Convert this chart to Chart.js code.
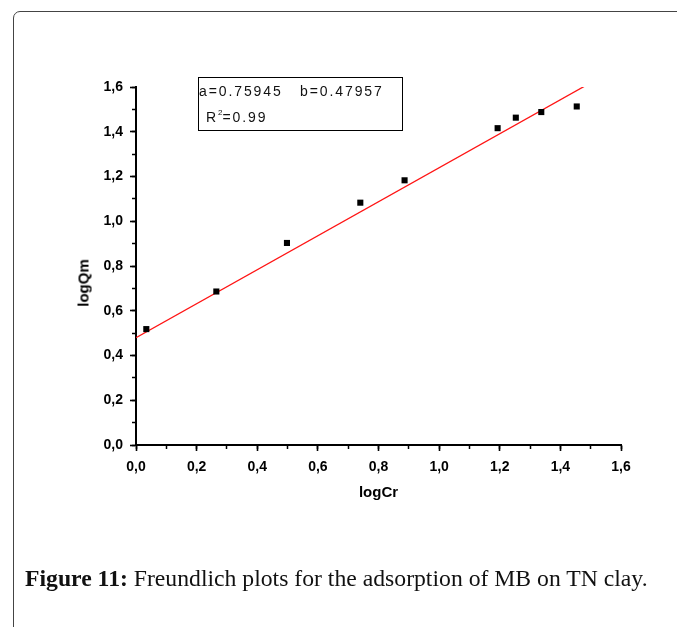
<!DOCTYPE html>
<html>
<head>
<meta charset="utf-8">
<script src="https://cdn.jsdelivr.net/npm/chart.js@4.4.0/dist/chart.umd.min.js"></script>
<style>
  html, body { margin: 0; padding: 0; background: #fff; width: 677px; height: 627px; overflow: hidden; }
  #frame { position: absolute; left: 13px; top: 11px; width: 720px; height: 700px; border: 1.6px solid #444; border-radius: 7px; box-sizing: border-box; }
  #wrap { position: absolute; left: 0; top: 0; width: 677px; height: 627px; }
  #fitbox { position: absolute; left: 198px; top: 77px; width: 205px; height: 54px; border: 1.5px solid #000; box-sizing: border-box;
            font-family: "Liberation Sans", Arial, sans-serif; font-size: 14px; letter-spacing: 1.9px; color: #111; }
  #fitbox .l1 { position: absolute; left: 0px; top: 5px; white-space: pre; }
  #fitbox .l2 { position: absolute; left: 7px; top: 30px; white-space: pre; }
  #fitbox sup { font-size: 8px; vertical-align: 7px; letter-spacing: 0; }
  #ytitle { position: absolute; left: 83px; top: 283px; transform: translate(-50%, -50%) rotate(-90deg);
            font-family: "Liberation Sans", Arial, sans-serif; font-weight: bold; font-size: 15px; color: #000; white-space: nowrap; }
  #caption { position: absolute; left: 25px; top: 565px; font-family: "Liberation Serif", "Times New Roman", serif; font-size: 23.7px; color: #111; white-space: nowrap; }
</style>
</head>
<body>
<div id="frame"></div>
<div id="wrap"><canvas id="c" width="677" height="627"></canvas></div>
<div id="fitbox"><span class="l1">a=0.75945   b=0.47957</span><span class="l2">R<sup>2</sup>=0.99</span></div>
<div id="ytitle">logQm</div>
<div id="caption"><b>Figure 11:</b> Freundlich plots for the adsorption of MB on TN clay.</div>
<script>
// ---- data ----
const logCr = [0.034, 0.265, 0.498, 0.740, 0.886, 1.193, 1.253, 1.337, 1.454];
const logQm = [0.518, 0.686, 0.903, 1.083, 1.183, 1.416, 1.463, 1.488, 1.513];
const fitX = [0.0, 1.479];
const fitY = [0.4796, 1.603];
const xTickLabels = ['0,0', '0,2', '0,4', '0,6', '0,8', '1,0', '1,2', '1,4', '1,6'];
const yTickLabels = ['0,0', '0,2', '0,4', '0,6', '0,8', '1,0', '1,2', '1,4', '1,6'];
const xTitle = 'logCr';

const toPts = (xs, ys) => xs.map((x, i) => ({ x: x, y: ys[i] }));
const tickFont = { family: '"Liberation Sans", Arial, sans-serif', size: 14, weight: 'bold' };

new Chart(document.getElementById('c'), {
  type: 'scatter',
  data: {
    datasets: [
      {
        label: 'data',
        data: toPts(logCr, logQm),
        pointStyle: 'rect',
        pointRadius: 4.3,
        backgroundColor: '#000',
        borderColor: '#000',
        borderWidth: 0,
        showLine: false
      },
      {
        label: 'fit',
        data: toPts(fitX, fitY),
        showLine: true,
        borderColor: 'rgb(255,20,20)',
        borderWidth: 1.3,
        pointRadius: 0,
        fill: false
      }
    ]
  },
  options: {
    responsive: false,
    animation: false,
    devicePixelRatio: 1,
    layout: { padding: { left: 0, right: 56, top: 87, bottom: 122 } },
    plugins: { legend: { display: false }, tooltip: { enabled: false } },
    scales: {
      xm: {
        type: 'linear', position: 'bottom', weight: 0,
        min: 0, max: 1.6,
        ticks: { stepSize: 0.1, display: false },
        grid: { drawOnChartArea: false, drawTicks: true, tickLength: 4, tickWidth: 1.5, tickColor: '#000' },
        border: { display: false },
        afterFit: s => { s.height = 0; }
      },
      x: {
        type: 'linear', position: 'bottom', weight: 1,
        min: 0, max: 1.6,
        ticks: { stepSize: 0.2, color: '#000', font: tickFont, padding: 8, maxRotation: 0,
                 callback: (v, i) => xTickLabels[i] },
        grid: { drawOnChartArea: false, drawTicks: true, tickLength: 6, tickWidth: 1.6, tickColor: '#000' },
        border: { display: true, color: '#000', width: 2 },
        title: { display: true, text: xTitle, color: '#000',
                 font: { family: '"Liberation Sans", Arial, sans-serif', size: 15, weight: 'bold' },
                 padding: { top: 0, bottom: 3 } },
        afterFit: s => { s.height = 60; }
      },
      ym: {
        type: 'linear', position: 'left', weight: 0,
        min: 0, max: 1.6,
        ticks: { stepSize: 0.1, display: false },
        grid: { drawOnChartArea: false, drawTicks: true, tickLength: 4, tickWidth: 1.5, tickColor: '#000' },
        border: { display: false },
        afterFit: s => { s.width = 0; }
      },
      y: {
        type: 'linear', position: 'left', weight: 1,
        min: 0, max: 1.6,
        ticks: { stepSize: 0.2, color: '#000', font: tickFont, padding: 7,
                 callback: (v, i) => yTickLabels[i] },
        grid: { drawOnChartArea: false, drawTicks: true, tickLength: 6, tickWidth: 1.6, tickColor: '#000' },
        border: { display: true, color: '#000', width: 2 },
        afterFit: s => { s.width = 136; }
      }
    }
  }
});
</script>
</body>
</html>
